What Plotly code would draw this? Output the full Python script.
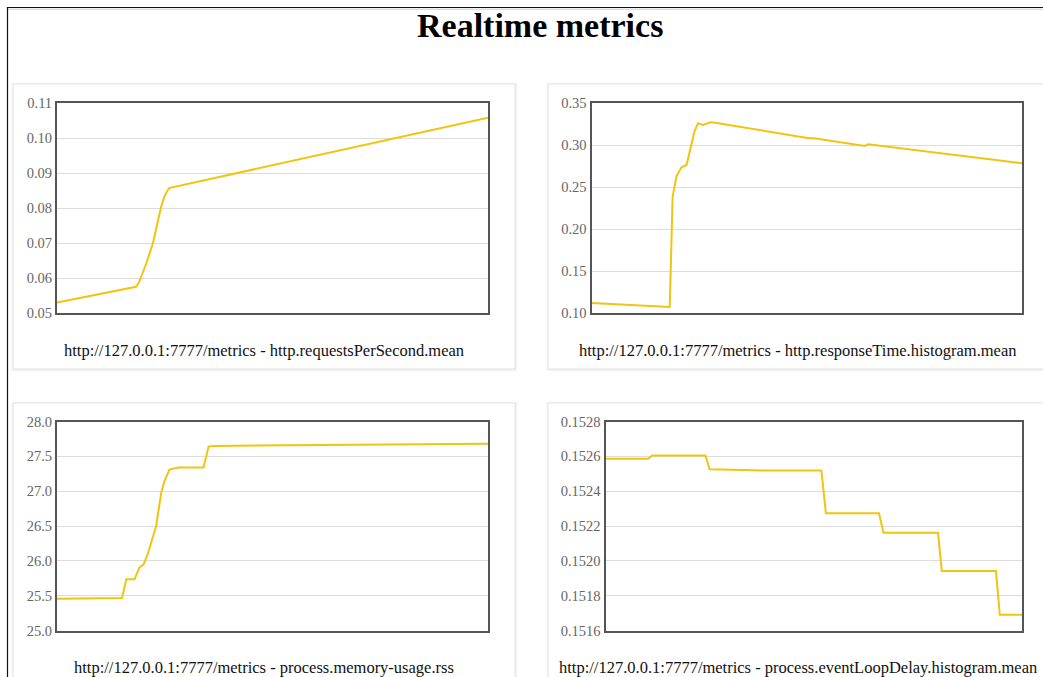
import plotly.graph_objects as go

# ---- metric samples (time in seconds since start, value) ----
rps_t = [0, 18.9, 21.2, 22.0, 22.8, 24.8, 26.7, 28.1, 29.0, 30.1, 31.2, 120]
rps_v = [0.0530, 0.0570, 0.0574, 0.0575, 0.0587, 0.0640, 0.0699, 0.0760, 0.0804, 0.0838, 0.0857, 0.1058]

resp_t = [0, 21.8, 22.2, 22.6, 23.7, 25.1, 26.5, 27.7, 28.7, 29.7, 31.1, 33.2, 34.5, 60.6, 62.0, 76.2, 77.1, 120]
resp_v = [0.1119, 0.1072, 0.1700, 0.2384, 0.2631, 0.2735, 0.2762, 0.3001, 0.3160, 0.3260, 0.3240, 0.3270, 0.3265, 0.3080, 0.3080, 0.2989, 0.3010, 0.2783]

mem_t = [0, 18.1, 19.3, 21.6, 22.9, 24.1, 25.3, 27.6, 29.0, 29.9, 31.3, 33.8, 40.8, 42.2, 43.6, 120]
mem_v = [25.457, 25.465, 25.735, 25.735, 25.90, 25.95, 26.105, 26.50, 26.97, 27.14, 27.31, 27.34, 27.34, 27.64, 27.65, 27.68]

loop_t = [0, 12.3, 13.5, 28.8, 30.0, 45.9, 62.2, 63.5, 78.8, 80.1, 95.8, 96.9, 112.5, 113.6, 120]
loop_v = [0.152586, 0.152586, 0.152605, 0.152605, 0.152526, 0.152518, 0.152518, 0.152273, 0.152273, 0.152161, 0.152161, 0.151942, 0.151942, 0.151690, 0.151690]

captions = [
    "http://127.0.0.1:7777/metrics - http.requestsPerSecond.mean",
    "http://127.0.0.1:7777/metrics - http.responseTime.histogram.mean",
    "http://127.0.0.1:7777/metrics - process.memory-usage.rss",
    "http://127.0.0.1:7777/metrics - process.eventLoopDelay.histogram.mean",
]
y_ranges = [[0.05, 0.11], [0.10, 0.35], [25.0, 28.0], [0.1516, 0.1528]]
y_dticks = [0.01, 0.05, 0.5, 0.0002]
y_formats = [".2f", ".2f", ".1f", ".4f"]

W, H = 1043, 677
LINE = "#f1c40f"
SERIF = "Liberation Serif, Times New Roman, serif"


def px(x):
    return x / W


def py(y):
    return 1 - y / H


# card boxes (left, top, right, bottom) and plot frames inside them
cards = [(13, 84, 515, 369), (548, 84, 1048, 369), (13, 403, 515, 700), (548, 403, 1048, 700)]
frames = [(57, 103, 488, 313), (591.5, 103, 1022, 313), (57, 421.5, 488, 630.5), (605.5, 421.5, 1022, 630.5)]
caption_y = [350, 350, 667, 667]

series = [(rps_t, rps_v), (resp_t, resp_v), (mem_t, mem_v), (loop_t, loop_v)]

fig = go.Figure()
layout = dict(
    template="none",
    width=W, height=H, margin=dict(l=0, r=0, t=0, b=0, pad=0, autoexpand=False),
    paper_bgcolor="white", plot_bgcolor="rgba(0,0,0,0)",
    showlegend=False, shapes=[], annotations=[],
)

# page frame
layout["shapes"] += [
    dict(type="line", xref="paper", yref="paper", x0=px(7), x1=1, y0=py(7.5), y1=py(7.5),
         line=dict(color="#111", width=1.2), layer="below"),
    dict(type="line", xref="paper", yref="paper", x0=px(8), x1=1, y0=py(9.2), y1=py(9.2),
         line=dict(color="#cfcfcf", width=1), layer="below"),
    dict(type="line", xref="paper", yref="paper", x0=px(7.5), x1=px(7.5), y0=py(7), y1=0,
         line=dict(color="#111", width=1.2), layer="below"),
]

for i, ((l, t, r, b), (fl, ft, fr, fb)) in enumerate(zip(cards, frames)):
    # soft card shadow
    for d, a in [(3, 0.015), (2, 0.025), (1, 0.035)]:
        layout["shapes"].append(dict(
            type="rect", xref="paper", yref="paper",
            x0=px(l - d + 1), x1=px(r + d), y0=py(t - d + 1), y1=py(b + d),
            fillcolor=f"rgba(0,0,0,{a})", line=dict(width=0), layer="below"))
    layout["shapes"].append(dict(
        type="rect", xref="paper", yref="paper",
        x0=px(l), x1=px(r), y0=py(t), y1=py(b),
        fillcolor="white", line=dict(color="#e4e4e4", width=1), layer="below"))

    k = "" if i == 0 else str(i + 1)
    xs, ys = series[i]
    fig.add_trace(go.Scatter(
        x=xs, y=ys, mode="lines", xaxis="x" + k, yaxis="y" + k,
        line=dict(color=LINE, width=2), hoverinfo="skip"))

    layout["xaxis" + k] = dict(
        domain=[px(fl), px(fr)], anchor="y" + k, range=[0, 120], automargin=False,
        showticklabels=False, showgrid=False, zeroline=False, ticks="",
        showline=True, mirror=True, linecolor="#555", linewidth=2)
    layout["yaxis" + k] = dict(
        domain=[py(fb), py(ft)], anchor="x" + k, range=y_ranges[i], automargin=False,
        dtick=y_dticks[i], tick0=y_ranges[i][0], tickformat=y_formats[i],
        showgrid=True, gridcolor="#dcdcdc", gridwidth=1, zeroline=False, ticks="",
        showline=True, mirror=True, linecolor="#555", linewidth=2,
        tickfont=dict(family=SERIF, size=14.5, color="#666"))

    layout["annotations"].append(dict(
        text=captions[i], xref="paper", yref="paper",
        x=px((l + r) / 2), y=py(caption_y[i]), xanchor="center", yanchor="middle",
        showarrow=False, font=dict(family=SERIF, size=16.5, color="#111")))

layout["annotations"].append(dict(
    text="<b>Realtime metrics</b>", xref="paper", yref="paper",
    x=px(540), y=py(25), xanchor="center", yanchor="middle",
    showarrow=False, font=dict(family=SERIF, size=34, color="#000")))

fig.update_layout(**layout)
fig.write_html("out.html")
